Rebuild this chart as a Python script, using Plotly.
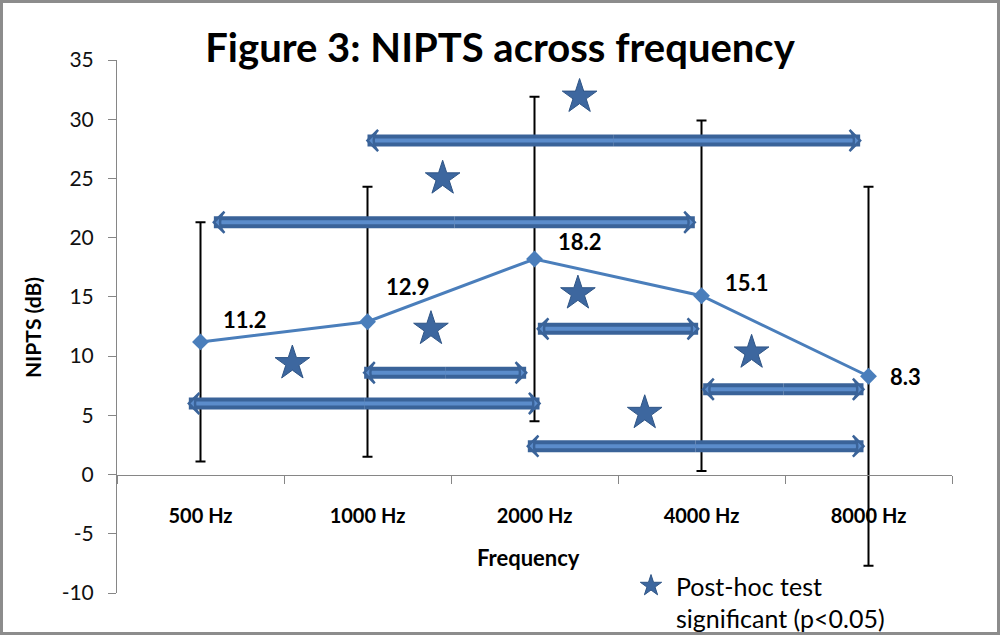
import plotly.graph_objects as go

# ---------------- data ----------------
freq_labels = ["500 Hz", "1000 Hz", "2000 Hz", "4000 Hz", "8000 Hz"]
nipts_mean = [11.2, 12.9, 18.2, 15.1, 8.3]
nipts_err = [10.1, 11.4, 13.7, 14.8, 16.0]

# significant pairwise comparisons (double arrows): start, end (category index), level (dB)
arrow_start = [1.00, 0.08, 2.02, 0.98, -0.07, 3.01, 1.96]
arrow_end = [3.95, 2.96, 2.98, 1.95, 2.03, 3.97, 3.97]
arrow_level = [28.2, 21.3, 12.3, 8.6, 6.0, 7.2, 2.4]

# star markers (post-hoc significance)
star_x = [0.55, 1.45, 1.38, 2.27, 2.26, 2.66, 3.30]
star_y = [9.4, 25.0, 12.3, 31.9, 15.3, 5.2, 10.3]

yticks = [35, 30, 25, 20, 15, 10, 5, 0, -5, -10]
ytick_labels = ["35", "30", "25", "20", "15", "10", "5", "0", "-5", "-10"]

# ---------------- style ----------------
W, H = 1000, 635
ML, MR, MT, MB = 117, 48, 60, 42
YMIN, YMAX = -10, 35
FONT = "Lato"
LINE_BLUE = "#4A7EBB"
ARROW_DARK = "#3A6399"
ARROW_LIGHT = "#5B8CCB"
STAR_BLUE = "#3D679F"
# label pixel offsets (dx, dy) per point
label_dx = [44, 40, 45, 45, 37]
label_dy = [22, 35, 17, 13, 0]

x_idx = list(range(len(freq_labels)))

fig = go.Figure()

# main series with error bars
fig.add_trace(go.Scatter(
    x=x_idx, y=nipts_mean, mode="lines+markers",
    line=dict(color=LINE_BLUE, width=3),
    marker=dict(symbol="diamond", size=13, color=LINE_BLUE),
    error_y=dict(type="data", array=nipts_err, visible=True,
                 color="black", thickness=2, width=5),
    showlegend=False, hoverinfo="skip",
))

# double arrows: shafts split at the midpoint so both ends are backed off
for x0, x1, lv in zip(arrow_start, arrow_end, arrow_level):
    mid = (x0 + x1) / 2
    xs = [mid, x0, None, mid, x1]
    ys = [lv, lv, None, lv, lv]
    fig.add_trace(go.Scatter(x=xs, y=ys, mode="lines",
                             line=dict(color=ARROW_DARK, width=12, backoff=9),
                             showlegend=False, hoverinfo="skip"))
    fig.add_trace(go.Scatter(x=xs, y=ys, mode="lines",
                             line=dict(color=ARROW_LIGHT, width=4, backoff=11),
                             showlegend=False, hoverinfo="skip"))

n_arr = len(arrow_start)
fig.add_trace(go.Scatter(
    x=arrow_start + arrow_end, y=arrow_level + arrow_level, mode="markers",
    marker=dict(symbol="arrow-wide", angle=[-90] * n_arr + [90] * n_arr,
                size=15, color=ARROW_LIGHT, line=dict(color=ARROW_DARK, width=2.5)),
    showlegend=False, hoverinfo="skip",
))

# stars
fig.add_trace(go.Scatter(
    x=star_x, y=star_y, mode="markers",
    name="Post-hoc test<br>significant (p&lt;0.05)",
    marker=dict(symbol="star", size=26, color=STAR_BLUE,
                line=dict(color="#2F5586", width=1)),
    showlegend=True, hoverinfo="skip",
))

# data labels
for i, (v, dx, dy) in enumerate(zip(nipts_mean, label_dx, label_dy)):
    fig.add_annotation(x=i, y=v, text=f"{v:.1f}", showarrow=False,
                       xshift=dx, yshift=dy,
                       font=dict(family=FONT, size=22, color="black", weight="bold"))

pw = W - ML - MR
ph = H - MT - MB

# axis titles
fig.add_annotation(xref="paper", yref="paper", x=(528 - ML) / pw, y=(H - MB - 557) / ph,
                   xanchor="center", yanchor="middle",
                   text="<b>Frequency</b>", showarrow=False,
                   font=dict(family=FONT, size=22, color="black"))
fig.add_annotation(xref="paper", yref="paper", x=(32 - ML) / pw, y=0.497,
                   xanchor="center", yanchor="middle",
                   text="<b>NIPTS (dB)</b>", showarrow=False, textangle=-90,
                   font=dict(family=FONT, size=21, color="black"))

# outer frame
fig.add_shape(type="rect", xref="paper", yref="paper",
              x0=-(ML - 1.5) / pw, x1=1 + (MR - 1.5) / pw,
              y0=-(MB - 1.5) / ph, y1=1 + (MT - 1.5) / ph,
              line=dict(color="#8C8C8C", width=3), layer="above")

fig.update_layout(
    width=W, height=H,
    margin=dict(l=ML, r=MR, t=MT, b=MB, autoexpand=False),
    paper_bgcolor="white", plot_bgcolor="white",
    title=dict(text="<b>Figure 3: NIPTS across frequency</b>",
               x=0.5, xref="container", y=1 - 48 / H, yref="container",
               xanchor="center", yanchor="middle",
               font=dict(family=FONT, size=40, color="black")),
    legend=dict(xref="container", yref="container",
                x=626 / W, y=1 - 563 / H, xanchor="left", yanchor="top",
                valign="top", bgcolor="rgba(0,0,0,0)", itemwidth=40,
                font=dict(family=FONT, size=25, color="black")),
    xaxis=dict(range=[-0.5, 4.5], tickmode="array", tickvals=x_idx, ticktext=freq_labels,
               ticks="", showline=True, linecolor="#868686", linewidth=1,
               showgrid=False, zeroline=False,
               anchor="free", position=(0 - YMIN) / (YMAX - YMIN),
               ticklabelstandoff=23,
               tickfont=dict(family=FONT, size=20, color="black", weight="bold"),
               minor=dict(tickmode="linear", tick0=0.5, dtick=1, ticks="outside",
                          ticklen=8, tickcolor="#868686", showgrid=False)),
    yaxis=dict(range=[YMIN, YMAX], tickmode="array", tickvals=yticks, ticktext=ytick_labels,
               ticks="outside", ticklen=8, tickcolor="#868686",
               showline=True, linecolor="#868686", linewidth=1,
               showgrid=False, zeroline=False, ticklabelstandoff=10,
               tickfont=dict(family=FONT, size=21, color="#111")),
)

fig.write_html("out.html", config={"displayModeBar": False},
               post_script="document.body.style.margin='0';")
